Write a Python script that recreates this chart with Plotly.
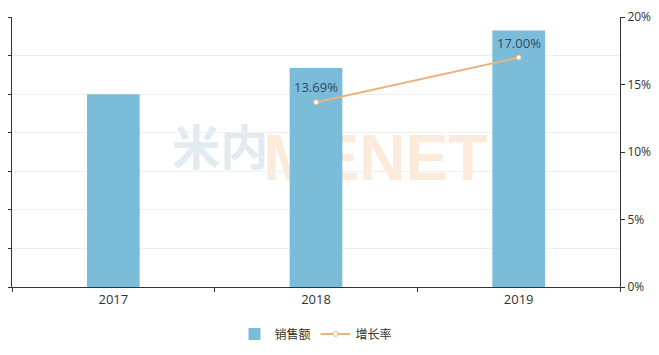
import plotly.graph_objects as go

years = ["2017", "2018", "2019"]
sales = [5.00, 5.68, 6.65]
growth_years = ["2018", "2019"]
growth = [13.69, 17.00]
growth_labels = ["13.69%", "17.00%"]
right_ticks = [0, 5, 10, 15, 20]
right_tick_labels = ["0%", "5%", "10%", "15%", "20%"]

fig = go.Figure()

fig.add_trace(go.Bar(
    x=years, y=sales, name="销售额", yaxis="y",
    marker=dict(color="#7bbcd9", line=dict(width=0)),
    width=0.26,
))
fig.add_trace(go.Scatter(
    x=growth_years, y=growth, name="增长率", yaxis="y2",
    mode="lines+markers",
    line=dict(color="#e8b57e", width=2),
    marker=dict(symbol="circle", size=5, color="white",
                line=dict(color="#e8b57e", width=1)),
))

for gx, gy, gl in zip(growth_years, growth, growth_labels):
    fig.add_annotation(x=years.index(gx), y=gy, xref="x", yref="y2", text=gl, showarrow=False,
                       yanchor="middle", yshift=15,
                       font=dict(family="Open Sans, Noto Sans CJK SC, sans-serif", size=13, color="#2f4a60"))

axis_line = "#333333"
# page body has an 8px margin, so the figure is 8px smaller and shifted
fig.update_layout(
    width=651, height=347,
    margin=dict(l=4, r=39, t=9, b=68, autoexpand=False),
    paper_bgcolor="white", plot_bgcolor="white",
    font=dict(family="Open Sans, Noto Sans CJK SC, sans-serif", size=12, color="#333333"),
    xaxis=dict(
        type="category", categoryorder="array", categoryarray=years,
        range=[-0.5, len(years) - 0.5],
        showline=True, linecolor=axis_line, linewidth=1,
        ticks="outside", ticklen=4, tickcolor=axis_line, tickson="boundaries",
        tickfont=dict(size=13, color="#333333"), showgrid=False, automargin=False,
    ),
    yaxis=dict(
        range=[0, 7], dtick=1, showticklabels=False,
        showline=True, linecolor=axis_line, linewidth=1,
        ticks="outside", ticklen=5, tickcolor=axis_line,
        showgrid=True, gridcolor="#efefef", gridwidth=1, zeroline=False, automargin=False,
    ),
    yaxis2=dict(
        overlaying="y", side="right", range=[0, 20],
        tickvals=right_ticks, ticktext=right_tick_labels,
        showline=True, linecolor=axis_line, linewidth=1,
        ticks="outside", ticklen=4, tickcolor=axis_line,
        tickfont=dict(size=12, color="#333333"), ticklabeloverflow="allow",
        showgrid=False, zeroline=False, automargin=False,
    ),
    legend=dict(orientation="h", x=0.5, xanchor="center", y=-0.12, yanchor="top",
                font=dict(size=12, color="#333333")),
    showlegend=True,
)

# watermark (behind the bars)
fig.add_shape(type="rect", xref="paper", yref="paper", x0=0.26, x1=0.425, y0=0.40, y1=0.60,
              layer="below", line=dict(width=0), fillcolor="rgba(0,0,0,0)",
              label=dict(text="米内", textposition="middle center",
                         font=dict(family="Noto Sans CJK SC", size=48, color="#e2ebf0", weight="bold")))
fig.add_shape(type="rect", xref="paper", yref="paper", x0=0.42, x1=0.775, y0=0.40, y1=0.60,
              layer="below", line=dict(width=0), fillcolor="rgba(0,0,0,0)",
              label=dict(text="MENET", textposition="middle center",
                         font=dict(family="Liberation Sans", size=64, color="#fcebdb", weight="bold")))

fig.write_html("out.html")
